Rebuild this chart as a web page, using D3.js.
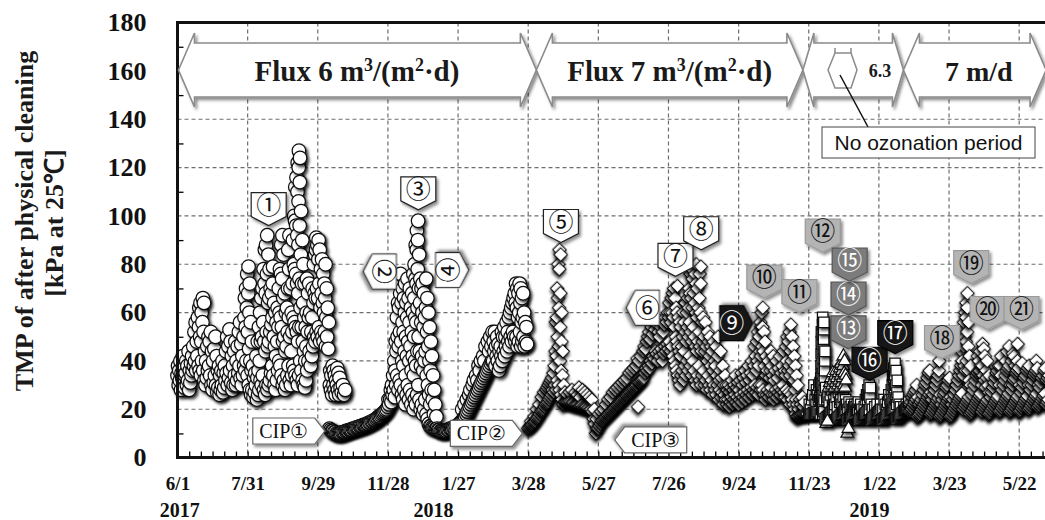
<!DOCTYPE html>
<html>
<head>
<meta charset="utf-8">
<script src="https://cdn.jsdelivr.net/npm/d3@7"></script>
<style>
  body { margin: 0; background: #fff; }
  svg { display: block; }
</style>
</head>
<body>
<div id="chart"></div>
<script>
// ---- data ---------------------------------------------------------------
const yTicks = [0, 20, 40, 60, 80, 100, 120, 140, 160, 180];
const xTickStart = "2017-06-01";
const xTickLabels = ["6/1", "7/31", "9/29", "11/28", "1/27", "3/28", "5/27", "7/26", "9/24", "11/23", "1/22", "3/23", "5/22"];
const yearLabels = [["2017", "2017-06-03"], ["2018", "2018-01-06"], ["2019", "2019-01-14"]];

// TMP readings, one entry per day from the start date (several readings on busy days)
const circleStart = "2017-06-01";
const circleTMP = [
  [34,38],[30,36],[32,40],[28,35],[33,42],[31,37],[29,34],[35,40],[30,38],[32,44],
  [28,36],[31,39],[34,42],[36,46],[38,52],[40,56],[36,48],[42,58],[38,54,62],[36,50,64],
  [34,48,60],[40,56,66],[36,52,64],[32,44],[30,40],[33,46],[36,50],[38,48],[34,52],[30,44],
  [28,40],[31,45],[34,50],[30,42],[27,36],[29,38],[26,34],[28,36],[30,40],[27,35],
  [29,38],[32,44],[35,50],[30,46],[33,53],[36,48],[31,42],[28,38],[30,44],[34,48],
  [30,40],[32,46],[35,52],[38,56],[33,47],[30,42],[34,50],[38,58,66],[36,54,70],[40,62,76],
  [34,52,68,79],[30,45,60,72],[28,40,56],[26,36,48],[28,38],[25,33],[27,35],[30,42],[24,33,48],[26,36,54],
  [28,40,60],[32,48,66],[30,50,70],[34,56,78],[28,48,72,86],[26,44,68,88],[30,52,76,92],[28,46,64,84],[30,48,66,78],[32,52,70],
  [35,55,68],[38,58,72,79],[34,50,64],[30,46,60],[28,42,56],[32,48,62],[36,54,70],[40,60,78],[38,58,76,88],[34,54,74,92],
  [30,48,66,84],[32,50,68],[28,44,60],[30,46,62],[34,52,70,86],[38,58,78,92],[32,50,70],[30,44,60],[34,52,72,90],[38,58,80,100],
  [36,56,78,98,112],[34,54,76,96,116],[32,52,72,92,110,122],[30,48,68,88,106,120,127],[34,54,74,96,114,124],[40,62,84,102],[36,54,72,90],[32,48,64,80],[30,44,58,72],[29,40,54],
  [32,46,60,74],[36,52,68],[40,58,72],[44,60],[38,52],[42,58,70],[46,64,80],[50,68,84],[48,66,86,91],[52,70,88],
  [50,66,82,90],[54,72,86],[48,62,78],[52,68,82],[50,64,76],[48,60,72],[52,66,80],[46,58,70],[50,62],[45,56],
  [12,30,36],[11.5,28,34],[11,26,38],[11,30,36],[10.5,28,34],[10.5,26,32],[10,30,37],[10,28,35],[10,26,33],[10,29],
  [10,27],[10.5,30],[10.5,26],[10.5,28],[11],[11],[11],[11.5],[11.5],[11.5],
  [12],[12],[12],[12.5],[12.5],[12.5],[13],[13],[13],[13.5],
  [13.5],[13.5],[14],[14],[14.5],[14.5],[15],[15],[15.5],[15.5],
  [16],[16.5],[17],[17],[17.5],[18],[18.5],[19],[19.5],[20],
  [21,24],[22],[24,28],[23,30],[26,34],[28,40],[25,36,48],[30,44,58],[34,50,64],[28,46,62,72],
  [32,52,68,76],[30,48,64],[26,40,56,70],[24,38,52,66],[28,44,60,72],[22,34,50,64],[26,42,58,74],[30,48,66],[24,40,56,70],[28,46,62],
  [22,36,52,68],[26,42,60,76],[20,34,50,66,80],[24,40,58,74,88],[22,38,56,72,86,94],[26,44,62,78,90,98],[30,50,70,84],[24,44,64,74],[20,38,56,70],[22,42,60,72],
  [18,36,54,68],[20,40,58],[24,44,62,74],[18,34,52,66],[16,30,46,60],[14,26,40,54],[13,22,36,48],[13,28,42],[12.5,24,34],[12.5,18,28],
  [12.5,22],[12,17],[12],[11.5],[11.5],[11],[11],[11],[11],[11],
  [11],[11.5],[11.5],[12],[12],[12],[12.5],[12.5],[13],[13],
  [13.5],[14],[14.5],[15,20],[15.5],[16,22],[17],[18,24],[19],[20,26],
  [21,28],[22],[23,30],[24,32],[25],[26,34],[27,32],[28,38],[29,36],[30,40],
  [31],[32,42],[33,40],[34,46],[35],[36,48],[37,44],[38,50],[39,46],[40,52],
  [40,48],[44,52],[38,46],[42,50],[40,47],[36,44],[38,46],[42,52],[40,50],[44,54],
  [42,50],[46,56],[44,52],[48,58],[46,60],[50,62],[48,64],[52,66],[50,68],[48,64,72],
  [50,62,70],[46,58,68],[48,60,72],[52,64,70],[46,56,66],[48,58,68],[50,60],[46,56],[48,54],[47]
];

const diamondStart = "2018-03-28";
const diamondTMP = [
  [12],[12.5],[13,15],[13.5],[14],[14.5,17],[15],[16,20],[16.5],[17,22],
  [18],[19,25],[19.5],[20,27],[21],[22,28],[22.5,29],[23,30],[24,31],[25,32],
  [26,33],[28,35],[27,38],[30,44,56],[28,42,58,70],[32,50,66,80],[30,46,62,78,86],[28,40,54,68,84],[26,36,48,60],[24,34,44],
  [22,30],[23,27],[23],[23,26],[23],[23,27],[23],[22.5,28],[22.5],[22.5],
  [22,27],[22],[22,26],[22,29],[21.5,25],[21.5],[21.5,28],[21],[21,27],[21],
  [21,26],[20.5],[20.5,25],[20],[20,24],[19],[16,20],[14],[10,16],[12],
  [12,18],[13],[14,19],[15],[15.5,20],[16],[16.5,22],[17],[17.5,24],[18],
  [18.5,25],[19],[19.5,27],[20],[20.5,28],[21],[21.5,29],[22],[22.5,30],[23],
  [23.5,31],[24],[24.5,32],[25],[25.5,33],[26],[26.5,35],[27],[27.5,36],[28],
  [28.5,37],[29],[29.5,38],[30,41],[21,31,40],[31],[31.5,42],[32],[32.5,44],[33,46],
  [35,45],[37,48],[36,50],[38,52],[37,49],[40,54],[39,51],[42,56],[41,53],[44,58],
  [43,55],[40,52],[44,50],[42,54],[45,56],[40,52],[43,55],[46,58],[44,56],[47,60],
  [45,58,64],[48,60],[44,56,66],[46,60,68],[42,58,70],[40,54,66],[38,50,62],[36,48,60,71],[34,46,58],[32,44,56],
  [30,42,54],[34,46],[36,50,60],[32,44,56],[38,52,64],[34,48,60],[40,54,66],[36,50,62,70],[42,56,68,76],[38,52,66,78],
  [34,48,62,74],[40,54,68],[36,50,64,76],[32,46,60,72,80],[30,44,58,70],[34,48,62],[38,52,66,76],[32,46,60,72,79],[30,44,56],[34,48,58],
  [36,50],[30,44,56],[32,46],[28,40,52],[34,48],[30,42,50],[28,38,46],[32,44],[26,36,48],[30,40],
  [28,38,46],[26,34],[30,42,50],[24,32],[28,36,44],[25,33],[27,38],[22,30],[26,34],[24,30],
  [22,28],[24,30],[21,27],[23,29],[25,32],[22,28],[24,30],[26,34],[23,29],[25,31],
  [22,28],[24,32],[26,35],[23,30],[25,33],[27,36],[24,31],[26,34],[28,38],[25,32],
  [27,35],[29,40],[26,34],[28,38,46],[30,42],[27,36,48],[29,40,52],[26,38,50],[30,44,56],[28,42,54,60],
  [30,46,54,62],[28,44,52],[26,38,48],[24,34,42],[26,36],[28,40],[25,33],[27,36,44],[29,38],[26,34,42],
  [24,32],[26,36],[28,40],[25,33],[27,37],[29,42],[26,35],[28,38],[30,44],[27,36],
  [25,34,46],[28,40,50],[24,36,48],[27,38,52],[22,34,44,55],[26,40,50],[24,36,46],[22,32,42],[20,28,38],[18,24,34],
  [17,22,30],[17,20],[17.5,24],[17.5,22],[18,25],[18,21],[18,23],[18],[18],[18]
];

const squareStart = "2018-11-23";
const squareTMP = [
  [18,22],[18,20],[18,24],[18,26],[18.5,30],[18.5,24],[18.5,22,28],[19,26],[19,24,30],[19,25,31],
  [18,24,29,33,38,43,48,52],[20,23,27,31,35,39,44,47,51,55,58],[18,22,26,30,34,37,41,45,49,53,56],[19,24,28,32,36,40,44],[16,29],[16.5,24],[17,25],[17.5,23],[18,26],[18.5,28],
  [19,21],[19.5,24],[20,22,28],[15.5,25],[16,21],[16.5,27,32],[17,23],[17.5,24],[18,22],[18.5,25],
  [19,21],[19.5,24],[20,22],[15.5,20],[16,23],[16.5,21],[17,22],[17.5,20],[18,21],[18.5,22],
  [19,21],[19.5,22],[20,23],[15.5,20],[16,22],[16.5,20],[17],[17.5,21],[18,24],[18.5,26],
  [19,24,28],[19.5,26,30],[20,25,29],[15.5,22],[16,20],[16.5],[17,21],[17.5],[18,22],[18.5],
  [19],[19.5,22],[20],[15.5,20],[16,24],[16.5,22],[17,20],[17.5,23],[18,26],[18.5,24],
  [19,22,28],[19.5,24,30,34],[20,23,28,33,37],[20.5,25,29,34,39],[21,24,30,36],[16,22,27,32],[16.5,25],[17,22],[17.5,21],[18],
  [18.5],[19,21],[19.5],[20,22],[20.5],[21,23]
];

const triangleStart = "2018-12-08";
const triangleTMP = [
  [14],[15],[29],[31],[33],[30,35],[32],[29,34],[31,36],[33],
  [30,35],[32,37],[29,34,39],[31,36],[33,38,42],[30,35,40],[29,34],[32],[10],[12]
];

const diamond2Start = "2019-02-17";
const diamond2TMP = [
  [19,22],[19.5,23],[20,25],[21,26],[22,27],[23,28],[24,30],[17,25],[17.5,22],[18,23],
  [19,24],[20,26],[21,28],[22,30],[23,31],[24,33],[25,35],[26,36],[18,27],[18.5,24],
  [19.5,26],[20.5,28],[21.5,30],[22.5,32],[23.5,34],[24.5,36,40],[17,26],[17.5,22],[18.5,24],[19.5,26],
  [20.5,27],[21.5,29],[22.5,30],[23.5,32],[24.5,33],[17,25],[17.5,22],[18.5,24],[19.5,26],[20.5,28],
  [21.5,30],[22.5,32],[23.5,34],[24.5,36],[25.5,38,44],[26.5,40,50],[20,34,46,56],[21,38,50,60],[22,36,48,58,64],[23,40,52,62,68],
  [24,36,46,56],[25,32,42],[18,30,38],[18.5,26],[19.5,28],[20.5,30],[21.5,32],[22.5,34],[23.5,35,42],[24.5,36,40],
  [25.5,36,44],[26.5,38],[19,30,38,47],[20,34,45],[21,32,42],[22,29,36],[23,33,40],[24,30],[18,27,34],[18.5,25],
  [19.5,27],[20.5,29],[21.5,31],[22.5,33],[23.5,35],[24.5,36],[25.5,38],[19,30,38],[19.5,34,42],[20.5,28],
  [21.5,30],[22.5,32],[23.5,34,40],[24.5,36,44],[25.5,37],[26.5,38,46],[19,30],[19.5,28,40],[20.5,30,43],[21.5,32,42],
  [22.5,33,38],[23.5,35],[24.5,36,40,47],[25.5,37],[19,30],[19.5,27],[20.5,29,39],[21.5,31],[22.5,33],[23.5,34],
  [24.5,36],[25.5,37],[20,30,38],[20.5,28],[21.5,30],[22.5,32],[23.5,34],[24.5,35],[25.5,36,40],[26.5,37],
  [21,30],[21.5,29],[22.5,31],[23.5,33],[24.5,34],[25.5,36],[26.5,37],[22,32],[23,33],[24,34]
];

// flux periods shown in the arrow band
const fluxPeriods = [
  { from: "2017-06-01", to: "2018-04-04" },
  { from: "2018-04-04", to: "2018-11-18" },
  { from: "2018-11-18", to: "2019-02-12" },
  { from: "2019-02-12", to: "2019-06-14" }
];

// numbered tags: tip position (date, TMP), direction and shade
const tagNames = ["①","②","③","④","⑤","⑥","⑦","⑧","⑨","⑩","⑪","⑫","⑬","⑭","⑮","⑯","⑰","⑱","⑲","⑳","㉑"];
const tagDates = ["2017-08-18","2017-11-07","2017-12-24","2018-02-05","2018-04-25","2018-06-20","2018-08-01","2018-08-23","2018-10-06","2018-10-16","2018-11-15","2018-12-05","2018-12-27","2018-12-27","2018-12-28","2019-01-14","2019-02-05","2019-03-17","2019-04-11","2019-04-25","2019-05-24"];
const tagTMP = [96, 77, 102.5, 77.6, 89, 62, 75, 86, 55.6, 66, 60, 85, 45, 59, 73, 32, 43, 41, 72, 53, 53];
const tagDir = ["down","left","down","right","down","left","down","down","right","down","down","down","down","down","down","down","down","down","down","down","down"];
const tagShade = ["w","w","w","w","w","w","w","w","k","l","l","l","m","m","m","k","k","l","l","l","l"];

const cipNames = ["CIP①", "CIP②", "CIP③"];
const cipDates = ["2017-10-05", "2018-03-23", "2018-06-10"];
const cipTMP = [11, 10, 7.3];
const cipDir = ["right", "right", "left"];

// ---- layout -------------------------------------------------------------
const W = 1045, H = 520;
const pxPerDay = 1.169;
const plotLeft = 177.5, plotTop = 22.6, plotBottom = 457.6;
const parseDate = d3.utcParse("%Y-%m-%d");
const dStart = parseDate("2017-06-01"), dEnd = parseDate("2019-06-25");

const x = d3.scaleUtc()
  .domain([dStart, dEnd])
  .range([plotLeft, plotLeft + d3.utcDay.count(dStart, dEnd) * pxPerDay]);
const y = d3.scaleLinear().domain([0, 180]).range([plotBottom, plotTop]);
const plotRight = x.range()[1];

const svg = d3.select("#chart").append("svg")
  .attr("width", W).attr("height", H)
  .attr("viewBox", `0 0 ${W} ${H}`);

const defs = svg.append("defs");
defs.append("filter").attr("id", "sh")
  .attr("x", "-60%").attr("y", "-60%").attr("width", "220%").attr("height", "220%")
  .append("feDropShadow")
    .attr("dx", 2).attr("dy", 2.2).attr("stdDeviation", 1.4)
    .attr("flood-color", "#000").attr("flood-opacity", 0.75);
defs.append("filter").attr("id", "shBox")
  .attr("x", "-20%").attr("y", "-30%").attr("width", "140%").attr("height", "160%")
  .append("feDropShadow")
    .attr("dx", 2).attr("dy", 2.5).attr("stdDeviation", 1.8)
    .attr("flood-color", "#000").attr("flood-opacity", 0.45);

// gridlines
const tickDates = xTickLabels.map((_, i) => d3.utcDay.offset(parseDate(xTickStart), 60 * i));
const grid = svg.append("g").attr("class", "grid")
  .attr("stroke", "#6e6e6e").attr("stroke-width", 1.2).attr("stroke-dasharray", "4,3");
grid.selectAll("line.v").data(tickDates.slice(1)).enter().append("line")
  .attr("class", "v")
  .attr("x1", d => x(d)).attr("x2", d => x(d))
  .attr("y1", plotTop).attr("y2", plotBottom);
grid.selectAll("line.h").data(yTicks.slice(1, -1)).enter().append("line")
  .attr("class", "h")
  .attr("x1", plotLeft).attr("x2", plotRight)
  .attr("y1", d => y(d)).attr("y2", d => y(d));

// minor ticks
const minorX = d3.range(0, 750, 10).map(k => d3.utcDay.offset(dStart, k)).filter(d => d < dEnd);
svg.append("g")
  .attr("transform", `translate(0,${plotBottom})`)
  .call(d3.axisBottom(x).tickValues(minorX).tickSize(-6).tickFormat(""))
  .call(g => g.select(".domain").remove())
  .selectAll("line").attr("stroke", "#000").attr("stroke-width", 1.3);
svg.append("g")
  .attr("transform", `translate(${plotLeft},0)`)
  .call(d3.axisLeft(y).tickValues(d3.range(10, 180, 20)).tickSize(-6).tickFormat(""))
  .call(g => g.select(".domain").remove())
  .selectAll("line").attr("stroke", "#000").attr("stroke-width", 1.3);

// axis labels
const yAxis = svg.append("g")
  .attr("transform", `translate(${plotLeft},0)`)
  .call(d3.axisLeft(y).tickValues(yTicks).tickSize(0).tickPadding(31));
yAxis.select(".domain").remove();
yAxis.selectAll("text")
  .style("font-family", '"Liberation Serif", serif')
  .style("font-weight", "bold").style("font-size", "26px").attr("fill", "#111");

const xAxis = svg.append("g")
  .attr("transform", `translate(0,${plotBottom})`)
  .call(d3.axisBottom(x).tickValues(tickDates).tickSize(0).tickPadding(19)
    .tickFormat((d, i) => xTickLabels[i]));
xAxis.select(".domain").remove();
xAxis.selectAll("text")
  .style("font-family", '"Liberation Serif", serif')
  .style("font-weight", "bold").style("font-size", "19px").attr("fill", "#111");

svg.append("g").selectAll("text").data(yearLabels).enter().append("text")
  .attr("x", d => x(parseDate(d[1]))).attr("y", 517)
  .attr("text-anchor", "middle")
  .style("font-family", '"Liberation Serif", serif')
  .style("font-weight", "bold").style("font-size", "20px").attr("fill", "#111")
  .text(d => d[0]);

// y title
const yTitle = svg.append("g")
  .style("font-family", '"Liberation Serif", serif')
  .style("font-weight", "bold").style("font-size", "26px").attr("fill", "#1a1a1a");
yTitle.append("text").attr("transform", "translate(33,221) rotate(-90)")
  .attr("text-anchor", "middle").text("TMP of after physical cleaning");
yTitle.append("text").attr("transform", "translate(63,223) rotate(-90)")
  .attr("text-anchor", "middle").text("[kPa at 25℃]");

// ---- markers ------------------------------------------------------------
function toPoints(start, vals) {
  const s = parseDate(start);
  const pts = [];
  vals.forEach((day, i) => {
    day.forEach((v, j) => {
      pts.push({ t: d3.utcHour.offset(s, i * 24 + Math.round(j * 24 / day.length)), v: v });
    });
  });
  return pts;
}

const series = [
  { pts: toPoints(circleStart, circleTMP), path: d3.symbol().type(d3.symbolCircle).size(145)(), rot: 0 },
  { pts: toPoints(diamondStart, diamondTMP), path: d3.symbol().type(d3.symbolSquare).size(90)(), rot: 45 },
  { pts: toPoints(squareStart, squareTMP), path: d3.symbol().type(d3.symbolSquare).size(110)(), rot: 0 },
  { pts: toPoints(triangleStart, triangleTMP), path: d3.symbol().type(d3.symbolTriangle).size(70)(), rot: 0 },
  { pts: toPoints(diamond2Start, diamond2TMP), path: d3.symbol().type(d3.symbolSquare).size(90)(), rot: 45 }
];

const marks = svg.append("g").attr("class", "marks");
series.forEach(s => {
  marks.append("g").selectAll("path").data(s.pts).enter().append("path")
    .attr("d", s.path)
    .attr("transform", d => `translate(${x(d.t)},${y(d.v)}) rotate(${s.rot})`)
    .attr("fill", "#fff").attr("stroke", "#111").attr("stroke-width", 1.25)
    .attr("filter", "url(#sh)");
});

// ---- frame --------------------------------------------------------------
svg.append("path")
  .attr("d", `M${plotRight},${plotTop} H${plotLeft} V${plotBottom} H${plotRight}`)
  .attr("fill", "none").attr("stroke", "#111").attr("stroke-width", 3);

// ---- flux arrows --------------------------------------------------------
const band = svg.append("g");
const aMid = 70, bodyT = 43, bodyB = 97, headT = 33, headB = 107;
fluxPeriods.forEach((p, i) => {
  const a = x(parseDate(p.from)) + (i === 0 ? 1 : 0), b = x(parseDate(p.to));
  const h = i === 2 ? 11 : 16;
  band.append("path")
    .attr("d", `M${a},${aMid} L${a + h},${headT} L${a + h},${bodyT} L${b - h},${bodyT} L${b - h},${headT} L${b},${aMid} L${b - h},${headB} L${b - h},${bodyB} L${a + h},${bodyB} L${a + h},${headB} Z`)
    .attr("fill", "#fff").attr("stroke", "#8a8a8a").attr("stroke-width", 1.6)
    .attr("filter", "url(#shBox)");
});

function fluxLabel(cx, num) {
  const t = band.append("text").attr("x", cx).attr("y", 81).attr("text-anchor", "middle")
    .style("font-family", '"Liberation Serif", serif').style("font-weight", "bold")
    .style("font-size", "29px").attr("fill", "#1a1a1a");
  t.append("tspan").text(`Flux ${num} m`);
  t.append("tspan").attr("dy", -10).style("font-size", "18px").text("3");
  t.append("tspan").attr("dy", 10).text("/(m");
  t.append("tspan").attr("dy", -10).style("font-size", "18px").text("2");
  t.append("tspan").attr("dy", 10).text("\u00b7d)");
}
const mid = p => (x(parseDate(p.from)) + x(parseDate(p.to))) / 2;
fluxLabel(mid(fluxPeriods[0]), 6);
fluxLabel(mid(fluxPeriods[1]), 7);
band.append("text").attr("x", 880).attr("y", 77).attr("text-anchor", "middle")
  .style("font-family", '"Liberation Serif", serif').style("font-weight", "bold")
  .style("font-size", "18px").attr("fill", "#1a1a1a").text("6.3");
band.append("text").attr("x", mid(fluxPeriods[3]) + 4).attr("y", 81).attr("text-anchor", "middle")
  .style("font-family", '"Liberation Serif", serif').style("font-weight", "bold")
  .style("font-size", "28px").attr("fill", "#1a1a1a").text("7 m/d");

// hexagon + callout for the no-ozonation period
band.append("path")
  .attr("d", "M828,70 L835,53 L851,53 L857,70 L851,88 L835,88 Z")
  .attr("fill", "#fff").attr("stroke", "#8a8a8a").attr("stroke-width", 1.5);
band.append("path")
  .attr("d", "M835,53 V48 M851,53 V48")
  .attr("fill", "none").attr("stroke", "#8a8a8a").attr("stroke-width", 1.5);
band.append("line").attr("x1", 840).attr("y1", 75).attr("x2", 868).attr("y2", 127)
  .attr("stroke", "#111").attr("stroke-width", 1.5);
band.append("rect").attr("x", 822).attr("y", 127).attr("width", 213).attr("height", 31)
  .attr("fill", "#fff").attr("stroke", "#444").attr("stroke-width", 1);
band.append("text").attr("x", 928.5).attr("y", 150).attr("text-anchor", "middle")
  .style("font-family", '"Liberation Sans", Arial, sans-serif')
  .style("font-size", "21px").attr("fill", "#111").text("No ozonation period");

// ---- numbered tags ------------------------------------------------------
const shadeFill = { w: "#fff", l: "#b4b4b4", m: "#7b7b7b", k: "#151515" };
const shadeText = { w: "#111", l: "#111", m: "#fff", k: "#fff" };
const shadeLine = { w: "#222", l: "#9a9a9a", m: "#555", k: "#000" };
const tagW = 35, tagBody = 24, tagPoint = 9;
const rotFor = { down: 0, left: 90, right: -90 };
const tags = svg.append("g");
tagNames.forEach((name, i) => {
  const g = tags.append("g")
    .attr("transform", `translate(${x(parseDate(tagDates[i]))},${y(tagTMP[i])}) rotate(${rotFor[tagDir[i]]})`);
  g.append("path")
    .attr("d", `M0,0 L${-tagW / 2},${-tagPoint} L${-tagW / 2},${-tagPoint - tagBody} L${tagW / 2},${-tagPoint - tagBody} L${tagW / 2},${-tagPoint} Z`)
    .attr("fill", shadeFill[tagShade[i]]).attr("stroke", shadeLine[tagShade[i]]).attr("stroke-width", 1.2)
    .attr("filter", "url(#shBox)");
  const rotText = (name === "②" || name === "④") ? 0 : -rotFor[tagDir[i]];
  g.append("text")
    .attr("transform", `translate(0,${-tagPoint - tagBody / 2}) rotate(${rotText})`)
    .attr("text-anchor", "middle").attr("dy", "0.37em")
    .style("font-family", '"Noto Sans CJK JP", "DejaVu Sans", sans-serif')
    .style("font-size", "25px").attr("fill", shadeText[tagShade[i]])
    .text(name);
});

// ---- CIP callouts -------------------------------------------------------
const cipW = 62, cipTip = 10, cipH = 26;
cipNames.forEach((name, i) => {
  const g = svg.append("g")
    .attr("transform", `translate(${x(parseDate(cipDates[i]))},${y(cipTMP[i])}) rotate(${cipDir[i] === "left" ? 180 : 0})`);
  g.append("path")
    .attr("d", `M0,0 L${-cipTip},${-cipH / 2} L${-cipTip - cipW},${-cipH / 2} L${-cipTip - cipW},${cipH / 2} L${-cipTip},${cipH / 2} Z`)
    .attr("fill", "#fff").attr("stroke", "#666").attr("stroke-width", 1.2)
    .attr("filter", "url(#shBox)");
  g.append("text")
    .attr("transform", `translate(${-cipTip - cipW / 2},0) rotate(${cipDir[i] === "left" ? 180 : 0})`)
    .attr("text-anchor", "middle").attr("dy", "0.35em")
    .style("font-family", '"Liberation Serif", "DejaVu Serif", serif')
    .style("font-size", "20px").attr("fill", "#111")
    .text(name);
});
</script>
</body>
</html>
